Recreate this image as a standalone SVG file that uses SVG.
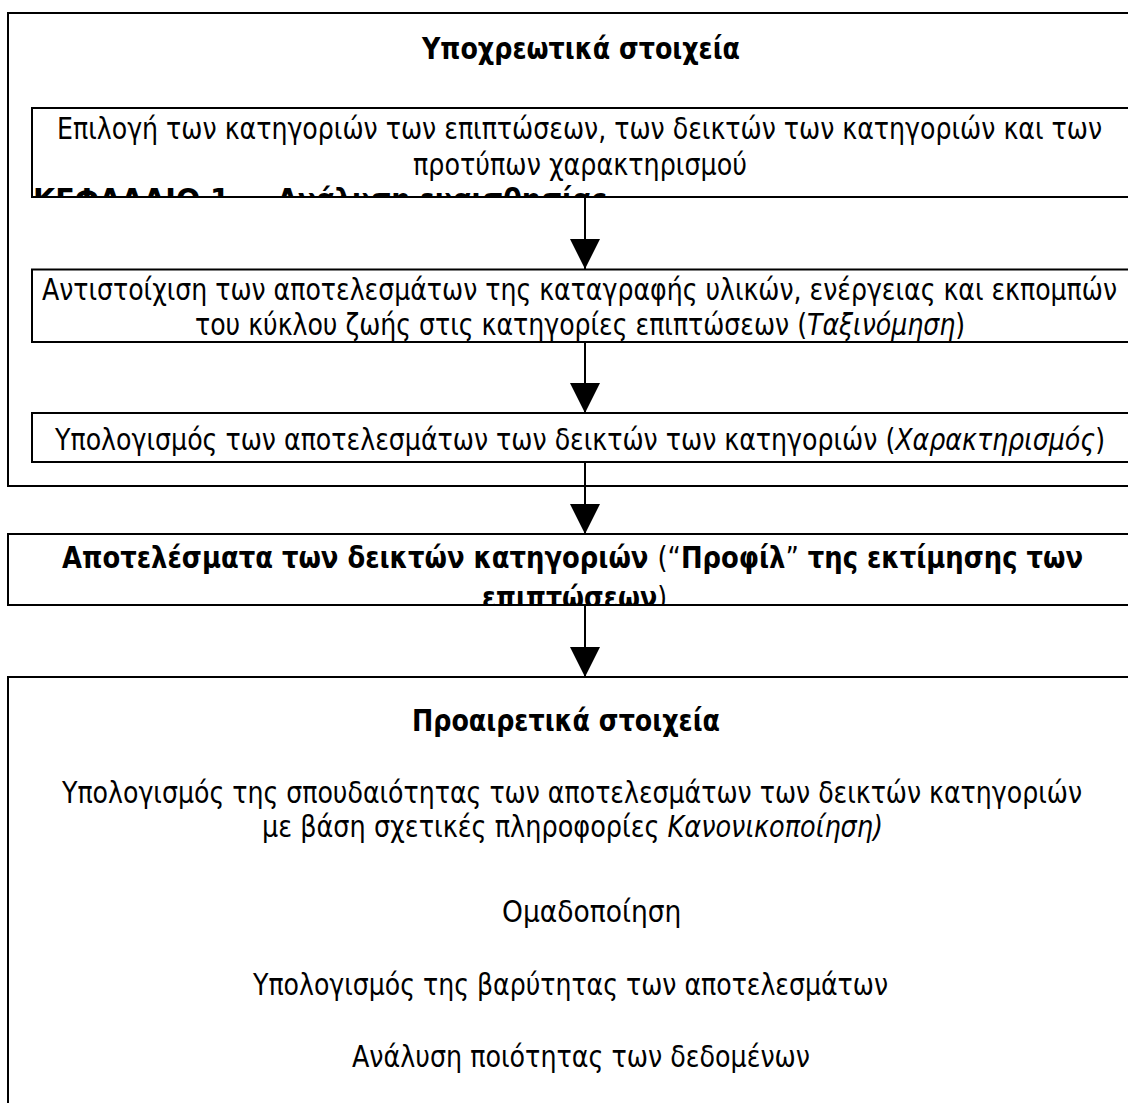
<svg xmlns="http://www.w3.org/2000/svg" width="1128" height="1103" viewBox="0 0 1128 1103">
<style>
.box{fill:none;stroke:#000;stroke-width:2}
.t{font-family:"DejaVu Sans Condensed","DejaVu Sans",sans-serif;font-stretch:condensed;font-size:29.5px;fill:#000}
.b{font-weight:bold}
.n{font-weight:normal}
.i{font-style:italic}
.conn{stroke:#000;stroke-width:2;fill:none;marker-end:url(#ah)}
</style>
<defs>
<marker id="ah" markerUnits="userSpaceOnUse" markerWidth="30" markerHeight="30" viewBox="0 0 30 30" refX="15" refY="30" orient="0">
<path d="M0,0 L30,0 L15,30 z" fill="#000"/>
</marker>
<clipPath id="c1"><rect x="32" y="108" width="1100" height="89"/></clipPath>
<clipPath id="c4"><rect x="8" y="534" width="1125" height="71"/></clipPath>
</defs>
<rect width="1128" height="1103" fill="#fff"/>

<g id="mandatory">
<rect class="box" x="8" y="13" width="1130" height="473"/>
<text class="t b" x="422" y="59" textLength="318" lengthAdjust="spacingAndGlyphs">Υποχρεωτικά στοιχεία</text>
</g>

<g id="selection">
<rect class="box" x="32" y="108" width="1110" height="89"/>
<text class="t" x="57" y="139" textLength="1045" lengthAdjust="spacingAndGlyphs">Επιλογή των κατηγοριών των επιπτώσεων, των δεικτών των κατηγοριών και των</text>
<text class="t" x="413" y="175" textLength="334" lengthAdjust="spacingAndGlyphs">προτύπων χαρακτηρισμού</text>
<g clip-path="url(#c1)">
<text class="t b" x="33" y="210" textLength="197" lengthAdjust="spacingAndGlyphs">ΚΕΦΑΛΑΙΟ 1</text>
<text class="t b" x="277" y="210" textLength="330" lengthAdjust="spacingAndGlyphs">Ανάλυση ευαισθησίας</text>
</g>
</g>

<g id="classification">
<rect class="box" x="32" y="269.5" width="1110" height="72.5"/>
<text class="t" x="42" y="300" textLength="1075" lengthAdjust="spacingAndGlyphs">Αντιστοίχιση των αποτελεσμάτων της καταγραφής υλικών, ενέργειας και εκπομπών</text>
<text class="t" x="195" y="335" textLength="770" lengthAdjust="spacingAndGlyphs">του κύκλου ζωής στις κατηγορίες επιπτώσεων (<tspan class="i">Ταξινόμηση</tspan>)</text>
</g>

<g id="characterisation">
<rect class="box" x="32" y="413" width="1110" height="49"/>
<text class="t" x="55" y="450" textLength="1050" lengthAdjust="spacingAndGlyphs">Υπολογισμός των αποτελεσμάτων των δεικτών των κατηγοριών (<tspan class="i">Χαρακτηρισμός</tspan>)</text>
</g>

<g id="profile">
<rect class="box" x="8" y="534" width="1130" height="71"/>
<text class="t b" x="62" y="568" textLength="1021" lengthAdjust="spacingAndGlyphs">Αποτελέσματα των δεικτών κατηγοριών <tspan class="n">(“</tspan>Προφίλ<tspan class="n">”</tspan> της εκτίμησης των</text>
<g clip-path="url(#c4)">
<text class="t b" x="482" y="608" textLength="185" lengthAdjust="spacingAndGlyphs">επιπτώσεων<tspan class="n">)</tspan></text>
</g>
</g>

<g id="optional">
<rect class="box" x="8" y="677" width="1130" height="440"/>
<text class="t b" x="412" y="731" textLength="308" lengthAdjust="spacingAndGlyphs">Προαιρετικά στοιχεία</text>
<text class="t" x="62" y="803" textLength="1020" lengthAdjust="spacingAndGlyphs">Υπολογισμός της σπουδαιότητας των αποτελεσμάτων των δεικτών κατηγοριών</text>
<text class="t" x="262" y="837" textLength="621" lengthAdjust="spacingAndGlyphs">με βάση σχετικές πληροφορίες <tspan class="i">Κανονικοποίηση)</tspan></text>
<text class="t" x="502" y="922">Ομαδοποίηση</text>
<text class="t" x="253" y="995" textLength="635" lengthAdjust="spacingAndGlyphs">Υπολογισμός της βαρύτητας των αποτελεσμάτων</text>
<text class="t" x="352" y="1067" textLength="458" lengthAdjust="spacingAndGlyphs">Ανάλυση ποιότητας των δεδομένων</text>
</g>

<g id="connectors">
<line class="conn" x1="585" y1="197" x2="585" y2="269"/>
<line class="conn" x1="585" y1="342" x2="585" y2="413"/>
<line class="conn" x1="585" y1="462" x2="585" y2="534"/>
<line class="conn" x1="585" y1="605" x2="585" y2="677"/>
</g>
</svg>
